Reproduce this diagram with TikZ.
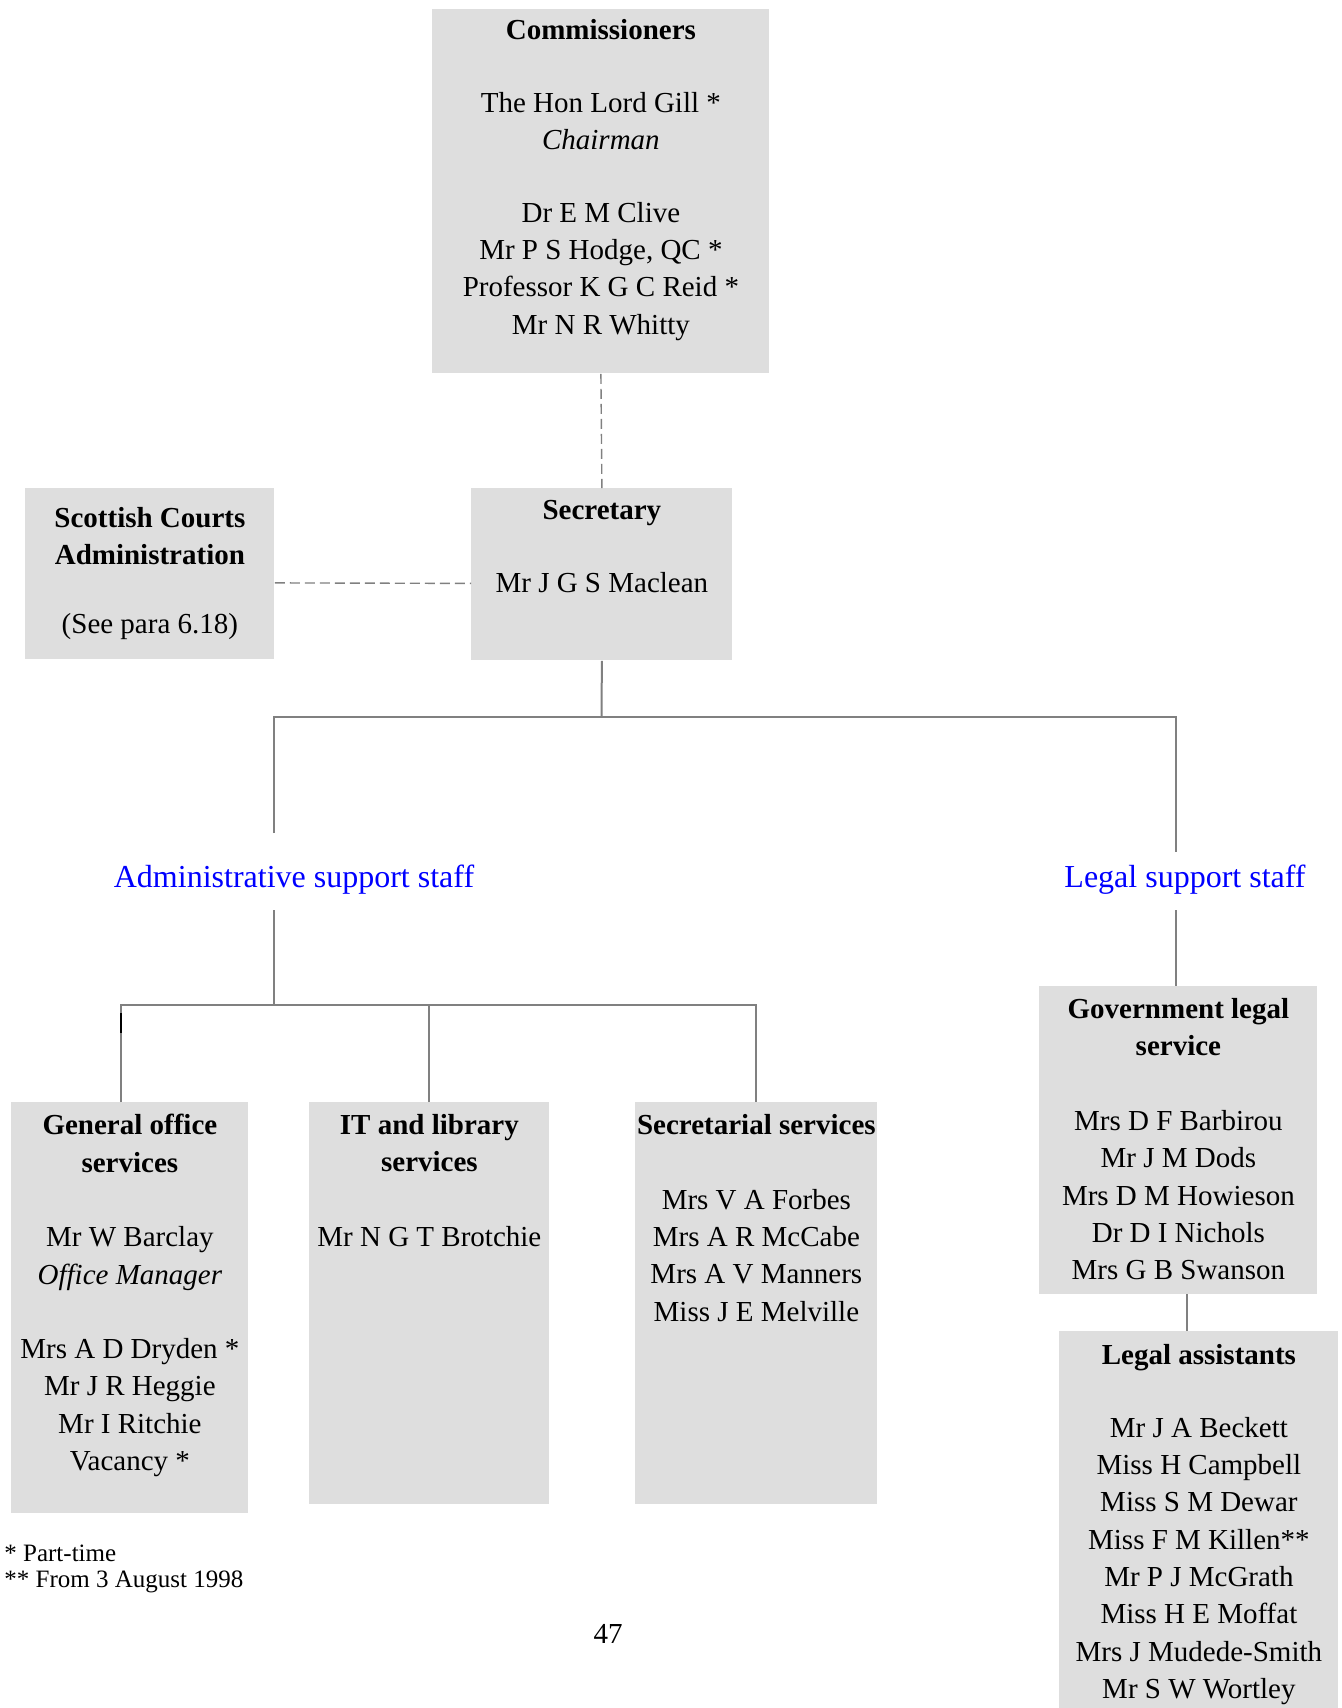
\documentclass[tikz,border=0pt]{standalone}
\usepackage{fontspec}
\setmainfont{Liberation Serif}
\usetikzlibrary{positioning}
\definecolor{boxgray}{RGB}{222,222,222}
\definecolor{linegray}{RGB}{128,128,128}
\begin{document}
\begin{tikzpicture}[x=0.5pt, y=-0.5pt,
    every node/.style={font=\fontsize{14.5}{18.65}\selectfont},
    box/.style={fill=boxgray, inner sep=0pt, anchor=north west},
    boxtext/.style={inner sep=0pt, align=center},
    group/.style={blue, font=\fontsize{16}{18.65}\selectfont},
    branch/.style={draw=linegray, line width=1pt},
    link/.style={draw=linegray, line width=0.7pt, dash pattern=on 5pt off 2.5pt}]
  \useasboundingbox (0,0) rectangle (1342,1708);

  % --- top: commissioners, secretary, courts --------------------------
  \node[box, minimum width=168.5pt, minimum height=182pt] (comm) at (432,9) {};
  \node[boxtext, below=5pt of comm.north] (commtxt)
    {\textbf{Commissioners}\\[0.95\baselineskip]
     The Hon Lord Gill *\\ \textit{Chairman}\\[0.95\baselineskip]
     Dr E M Clive\\ Mr P S Hodge, QC *\\ Professor K G C Reid *\\ Mr N R Whitty};

  \node[box, minimum width=130.5pt, minimum height=86pt] (sec) at (471,488) {};
  \node[boxtext, below=6pt of sec.north] (sectxt)
    {\textbf{Secretary}\\[0.95\baselineskip] Mr J G S Maclean};

  \node[box, minimum width=124.5pt, minimum height=85.5pt] (sca) at (25,488) {};
  \node[boxtext, below=9.5pt of sca.north] (scatxt)
    {\textbf{Scottish Courts}\\ \textbf{Administration}\\[0.85\baselineskip] (See para 6.18)};

  \draw[link] (comm.south) -- (sec.north);
  \draw[link] ([yshift=-4.5pt]sca.east) -- ([yshift=-4.5pt]sec.west);

  % --- split into the two staff groups --------------------------------
  \coordinate (split) at (601.5,717);
  \coordinate (admtop) at (274,833);
  \coordinate (legtop) at (1176,852);
  \draw[branch] (sec.south) -- (split);
  \draw[branch] (admtop) |- (split) -| (legtop);

  \node[group] (adm) at (294,880) {Administrative support staff};
  \node[group] (legal) at (1185,880) {Legal support staff};

  % --- administrative side ---------------------------------------------
  \node[box, minimum width=118.5pt, minimum height=205.5pt] (gos) at (11,1102) {};
  \node[boxtext, below=6pt of gos.north] (gostxt)
    {\textbf{General office}\\ \textbf{services}\\[\baselineskip]
     Mr W Barclay\\ \textit{Office Manager}\\[\baselineskip]
     Mrs A D Dryden *\\ Mr J R Heggie\\ Mr I Ritchie\\ Vacancy *};

  \node[box, minimum width=120pt, minimum height=201pt] (its) at (309,1102) {};
  \node[boxtext, below=6pt of its.north] (itstxt)
    {\textbf{IT and library}\\ \textbf{services}\\[\baselineskip] Mr N G T Brotchie};

  \node[box, minimum width=121pt, minimum height=201pt] (secs) at (635,1102) {};
  \node[boxtext, below=6pt of secs.north] (secstxt)
    {\textbf{Secretarial services}\\[\baselineskip]
     Mrs V A Forbes\\ Mrs A R McCabe\\ Mrs A V Manners\\ Miss J E Melville};

  \coordinate (admfoot) at (274,910);
  \coordinate (admbus) at (274,1005);
  \coordinate (gostop) at (121,1102);
  \draw[branch] (admfoot) -- (admbus);
  \draw[branch] (gostop) |- (admbus) -| (secs.north);
  \draw[branch] (its.north) -- (its.north |- admbus);
  \draw[black, line width=1.1pt] ([yshift=-4pt]gostop |- admbus) -- ++(0,-10pt);

  % --- legal side ------------------------------------------------------
  \node[box, minimum width=139pt, minimum height=154pt] (gls) at (1039,986) {};
  \node[boxtext, below=6pt of gls.north] (glstxt)
    {\textbf{Government legal}\\ \textbf{service}\\[\baselineskip]
     Mrs D F Barbirou\\ Mr J M Dods\\ Mrs D M Howieson\\ Dr D I Nichols\\ Mrs G B Swanson};

  \node[box, minimum width=139.5pt, minimum height=188.5pt] (las) at (1059,1331) {};
  \node[boxtext, below=6.5pt of las.north] (lastxt)
    {\textbf{Legal assistants}\\[0.95\baselineskip]
     Mr J A Beckett\\ Miss H Campbell\\ Miss S M Dewar\\ Miss F M Killen**\\
     Mr P J McGrath\\ Miss H E Moffat\\ Mrs J Mudede-Smith\\ Mr S W Wortley};

  \coordinate (legfoot) at (1176,910);
  \coordinate (glsfoot) at (1187,1294);
  \draw[branch] (legfoot) -- (legfoot |- gls.north);
  \draw[branch] (glsfoot) -- (glsfoot |- las.north);

  % --- footnotes and page number ---------------------------------------
  \node[font=\fontsize{12.5}{13}\selectfont, align=left, anchor=north west,
        inner sep=0pt] (notes) at (4,1544.5) {* Part-time\\ ** From 3 August 1998};
  \node (page) at (608,1634) {47};
\end{tikzpicture}
\end{document}
